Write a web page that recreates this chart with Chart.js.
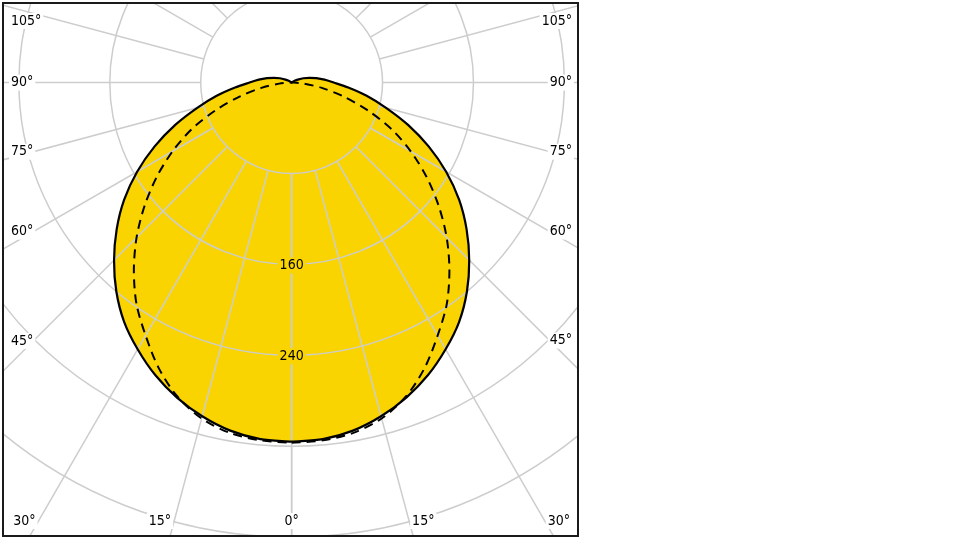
<!DOCTYPE html>
<html><head><meta charset="utf-8">
<script src="https://cdn.jsdelivr.net/npm/chart.js@4.4.1/dist/chart.umd.min.js"></script>
<style>html,body{margin:0;padding:0;background:#fff;}canvas{display:block;}</style>
</head><body>
<canvas id="c" width="960" height="540"></canvas>
<script>
// Gamma angles (deg from nadir) and luminous intensity (cd) per C-plane
const gammaDeg = [0,5,10,15,20,25,30,35,40,45,50,55,60,65,70,75,80,85,90,95,100,105,110,115,120,125,130,135,140,145,150,155,160,165,170,175,180];
const intensityC0C180 = [316,315,311,304,295,284,271,257,240,221,201,180,157,133,109,86,67,50,37,29,22,16,11,6,3,1,0,0,0,0,0,0,0,0,0,0,0];
const intensityC90C270 = [317,316,313,306,294,277,257,238,216,193,169,145,121,97,71,47,27,11,2,0,0,0,0,0,0,0,0,0,0,0,0,0,0,0,0,0,0];
// Grid
const ringValues = [80,160,240,320,400,480,560];
const ringLabelValues = [160,240];
const ringLabels = ['160','240'];
const spokeGamma = [0,15,30,45,60,75,90,105,120,135,150,165,180];
const angleLabelGamma = [0,15,30,45,60,75,90,105];
const angleLabels = ['0°','15°','30°','45°','60°','75°','90°','105°'];

const FILL = '#f9d400';
const GRID = '#cdcdcd';
const FONT = '14px "DejaVu Sans Condensed", "DejaVu Sans", sans-serif';

function polarPoints(vals){
  const pts = [];
  for (let i = 0; i < gammaDeg.length; i++){
    const t = gammaDeg[i]*Math.PI/180;
    pts.push({x: vals[i]*Math.sin(t), y: -vals[i]*Math.cos(t)});
  }
  for (let i = gammaDeg.length-1; i >= 0; i--){
    const t = gammaDeg[i]*Math.PI/180;
    pts.push({x: -vals[i]*Math.sin(t), y: -vals[i]*Math.cos(t)});
  }
  return pts;
}

function centerOf(chart){
  const {x, y} = chart.scales;
  return {cx: x.getPixelForValue(0), cy: y.getPixelForValue(0), k: y.getPixelForValue(-100) - y.getPixelForValue(0)};
}

const polarGrid = {
  id: 'polarGrid',
  afterDatasetDraw(chart, args){
    if (args.index !== 0) return;
    const {ctx, chartArea: ca} = chart;
    const {cx, cy, k} = centerOf(chart);
    ctx.save();
    ctx.beginPath(); ctx.rect(ca.left, ca.top, ca.right-ca.left, ca.bottom-ca.top); ctx.clip();
    ctx.strokeStyle = GRID; ctx.lineWidth = 1.5;
    ringValues.forEach(v => { ctx.beginPath(); ctx.arc(cx, cy, v*k/100, 0, Math.PI*2); ctx.stroke(); });
    const r0 = ringValues[0]*k/100, r1 = 3000;
    spokeGamma.forEach(g => {
      [-1, 1].forEach(s => {
        const t = g*Math.PI/180, dx = s*Math.sin(t), dy = Math.cos(t);
        ctx.beginPath(); ctx.moveTo(cx+dx*r0, cy+dy*r0); ctx.lineTo(cx+dx*r1, cy+dy*r1); ctx.stroke();
      });
    });
    ctx.restore();
  },
  afterDraw(chart){
    const {ctx, chartArea: ca} = chart;
    const {cx, cy, k} = centerOf(chart);
    ctx.save();
    ctx.font = FONT; ctx.textBaseline = 'middle';
    const box = (x0, yc, w, col) => { ctx.fillStyle = col; ctx.fillRect(x0-2, yc-8, w+4, 16); };
    // ring labels
    ringLabelValues.forEach((v, i) => {
      const w = ctx.measureText(ringLabels[i]).width;
      const yy = cy + v*k/100 + 1;
      box(cx - w/2, yy, w, FILL);
      ctx.fillStyle = '#000'; ctx.textAlign = 'left'; ctx.fillText(ringLabels[i], cx - w/2, yy);
    });
    // angle labels
    angleLabelGamma.forEach((g, i) => {
      const txt = angleLabels[i];
      const w = ctx.measureText(txt).width;
      const sides = g === 0 ? [1] : [-1, 1];
      sides.forEach(s => {
        const t = g*Math.PI/180, dx = s*Math.sin(t), dy = Math.cos(t);
        const tSide = Math.abs(dx) > 1e-9 ? ((s > 0 ? ca.right : ca.left) - cx)/dx : Infinity;
        const tBot = dy > 1e-9 ? (ca.bottom - cy)/dy : Infinity;
        let x0, yy;
        if (tSide < tBot){
          if (s < 0){ x0 = ca.left + 8; const xe = x0 + w; yy = cy + (cx - xe)*dy/Math.abs(dx); }
          else { x0 = ca.right - 6 - w; const xs = x0; yy = cy + (xs - cx)*dy/Math.abs(dx); }
          yy = Math.max(yy, ca.top + 18);
        } else {
          yy = ca.bottom - 15;
          const xl = cx + (yy - cy)*dx/dy;
          if (g === 0) x0 = xl - w/2; else if (s < 0) x0 = xl - 3 - w; else x0 = xl + 3;
        }
        box(x0, yy, w, '#ffffff');
        ctx.fillStyle = '#000'; ctx.textAlign = 'left'; ctx.fillText(txt, x0, yy);
      });
    });
    // frame
    ctx.strokeStyle = '#1a1a1a'; ctx.lineWidth = 2;
    ctx.strokeRect(ca.left, ca.top, ca.right-ca.left, ca.bottom-ca.top);
    ctx.restore();
  }
};

const solidPts = polarPoints(intensityC0C180);
const dashPts = polarPoints(intensityC90C270);

new Chart(document.getElementById('c'), {
  type: 'scatter',
  data: { datasets: [
    { label: 'fill', data: solidPts, showLine: true, fill: 'shape', backgroundColor: FILL,
      borderColor: 'rgba(0,0,0,0)', borderWidth: 0, pointRadius: 0, tension: 0.3, order: 3 },
    { label: 'C90-C270', data: dashPts, showLine: true, fill: false, borderColor: '#000',
      borderWidth: 2, borderDash: [9, 6], pointRadius: 0, tension: 0.3, order: 2 },
    { label: 'C0-C180', data: solidPts, showLine: true, fill: false, borderColor: '#000',
      borderWidth: 2.2, pointRadius: 0, tension: 0.3, order: 1 }
  ]},
  options: {
    responsive: false, animation: false, events: [],
    layout: { padding: { left: 3, top: 3, right: 382, bottom: 4 } },
    scales: {
      x: { type: 'linear', display: false, min: -254, max: 252 },
      y: { type: 'linear', display: false, min: -399, max: 70 }
    },
    plugins: { legend: { display: false }, tooltip: { enabled: false } }
  },
  plugins: [polarGrid]
});
</script>
</body></html>
